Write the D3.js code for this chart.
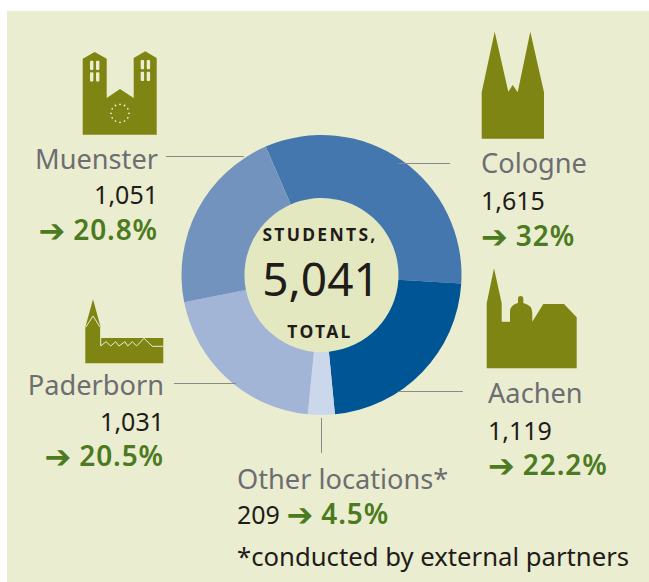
<!DOCTYPE html>
<html>
<head>
<meta charset="utf-8">
<script src="https://cdn.jsdelivr.net/npm/d3@7"></script>
<style>
  html, body { margin: 0; padding: 0; background: #fff; }
  svg { display: block; }
  text { font-family: "Noto Sans", "Open Sans", sans-serif; }
  .name { fill: #6d6e71; font-size: 27.2px; }
  .count { fill: #1f1c1a; font-size: 25px; }
  .share { fill: #4b7a20; font-size: 28px; font-weight: 600; letter-spacing: 0.9px; }
  .arrow { font-family: "DejaVu Sans", sans-serif; font-weight: 700; letter-spacing: 0; }
</style>
</head>
<body>
<div id="chart"></div>
<script>
const locations = ['Cologne', 'Aachen', 'Other locations*', 'Paderborn', 'Muenster'];
const students = ['1,615', '1,119', '209', '1,031', '1,051'];
const shareLabels = ['32%', '22.2%', '4.5%', '20.5%', '20.8%'];
// slice sizes as drawn in the picture (they do not quite follow the printed percentages)
const sliceShares = [32.5, 22.5, 3.1, 20.3, 21.6];
const sliceColors = ['#4377ae', '#005595', '#cbd7ea', '#a2b5d6', '#7393bf'];
const totalLabel = '5,041';
const footnote = '*conducted by external partners';

const width = 649,
  height = 582;

const cx = 321.5,
  cy = 275,
  outerR = 140,
  innerR = 77;

const colors = {
  panel: '#ebedd0',
  centre: '#e4e8c1',
  icon: '#7f8512',
  leader: '#8a8b85'
};

const svg = d3.select('#chart').append('svg')
  .attr('width', width)
  .attr('height', height);

svg.append('rect')
  .attr('x', 7)
  .attr('y', 11)
  .attr('width', width - 7)
  .attr('height', height - 11)
  .attr('fill', colors.panel);

function drawDonut() {
  const start = -23.5 * Math.PI / 180;
  const pie = d3.pie()
    .sort(null)
    .startAngle(start)
    .endAngle(start + 2 * Math.PI);

  const arc = d3.arc()
    .innerRadius(innerR)
    .outerRadius(outerR);

  const g = svg.append('g')
    .attr('transform', `translate(${cx},${cy})`);

  g.append('circle')
    .attr('r', innerR)
    .attr('fill', colors.centre);

  g.selectAll('path')
    .data(pie(sliceShares))
    .enter()
    .append('path')
    .attr('d', arc)
    .attr('fill', (d, i) => sliceColors[i]);
}

function drawCentre() {
  const g = svg.append('g').attr('text-anchor', 'middle');

  g.append('text')
    .attr('x', 320)
    .attr('y', 241)
    .attr('font-size', 17.5)
    .attr('font-weight', 700)
    .attr('letter-spacing', 2.3)
    .attr('fill', '#1f1c1a')
    .text('STUDENTS,');

  g.append('text')
    .attr('x', 321)
    .attr('y', 296)
    .attr('font-size', 46)
    .attr('fill', '#1f1c1a')
    .text(totalLabel);

  g.append('text')
    .attr('x', 320)
    .attr('y', 338)
    .attr('font-size', 17.5)
    .attr('font-weight', 700)
    .attr('letter-spacing', 2.3)
    .attr('fill', '#1f1c1a')
    .text('TOTAL');
}

function drawLeaders() {
  const leaders = [
    [398, 163.5, 450, 163.5],
    [398, 391.5, 463, 391.5],
    [321.5, 418, 321.5, 453],
    [174, 383.5, 236, 383.5],
    [166, 156.5, 244, 156.5]
  ];

  svg.selectAll('.leader')
    .data(leaders)
    .enter()
    .append('line')
    .classed('leader', true)
    .attr('x1', d => d[0])
    .attr('y1', d => d[1])
    .attr('x2', d => d[2])
    .attr('y2', d => d[3])
    .attr('stroke', colors.leader)
    .attr('stroke-width', 1);
}

function shareLine(sel, i) {
  sel.append('tspan')
    .classed('arrow', true)
    .attr('font-size', 32)
    .attr('dy', 2)
    .text('\u2794');
  sel.append('tspan')
    .attr('dx', 8)
    .attr('dy', -2)
    .text(shareLabels[i]);
}

function drawLabels() {
  // index, anchor, x, baseline of name / count / share
  const blocks = [
    [0, 'start', 481, 173, 210, 246],
    [1, 'start', 488, 403, 440, 475],
    [3, 'end', 164, 395, 431, 466],
    [4, 'end', 158, 169, 204, 240]
  ];

  blocks.forEach(([i, anchor, x, y1, y2, y3]) => {
    const g = svg.append('g').attr('text-anchor', anchor);
    g.append('text').classed('name', true).attr('x', x).attr('y', y1).text(locations[i]);
    g.append('text').classed('count', true).attr('x', x).attr('y', y2).text(students[i]);
    g.append('text').classed('share', true).attr('x', x).attr('y', y3).call(shareLine, i);
  });

  svg.append('text').classed('name', true)
    .attr('x', 237)
    .attr('y', 489)
    .text(locations[2]);

  const other = svg.append('text').classed('count', true)
    .attr('x', 237)
    .attr('y', 524);
  other.append('tspan').text(students[2] + ' ');
  other.append('tspan')
    .classed('share', true)
    .call(shareLine, 2);

  svg.append('text')
    .attr('x', 237)
    .attr('y', 566)
    .attr('font-size', 25.7)
    .attr('fill', '#1f1c1a')
    .text(footnote);
}

function drawIcons() {
  const shapes = [
    // Cologne
    'M481.7,138.7V92.3L494.7,31.7L508.3,91.7L512.7,85L517.7,92.3L530.3,31.7L544,92.3V138.7Z',
    // Aachen
    'M486.7,368.3V303.3L494,268.3L501.7,303.3V321.7H510V311.7Q510,305 518,303V298Q518,296 520.7,296Q523.3,296 523.3,298V303Q532.3,305 532.3,313V321.7L543.3,304H564L576.7,317.3V368.3Z',
    // Paderborn
    'M85.3,363.3V327.3L93,299.3L100.7,327.3V338H163.3V363.3Z',
    // Muenster
    'M82.7,134.7V58.7L94.7,52L106.7,58.7V98L120,89L133.7,98V58L145.3,51.3L156.7,58V134.7Z'
  ];

  svg.selectAll('.icon')
    .data(shapes)
    .enter()
    .append('path')
    .classed('icon', true)
    .attr('d', d => d)
    .attr('fill', colors.icon);

  // paderborn roof lines
  svg.append('path')
    .attr('d', 'M85.8,327.3L93,316L100.2,327.3M100.7,327.3V346L106,341.7L110.7,346L115.7,341.7L119,346L125,341.7L127.7,346L132.3,341.7L136.7,346L144,338.3L152.3,346.3H163.3')
    .attr('fill', 'none')
    .attr('stroke', colors.panel)
    .attr('stroke-width', 1);

  // muenster tower windows
  const windows = [
    [90, 60.7], [96, 60.7], [90, 72.3], [96, 72.3],
    [140.7, 60], [146.7, 60], [140.7, 71.7], [146.7, 71.7]
  ];
  svg.selectAll('.window')
    .data(windows)
    .enter()
    .append('rect')
    .classed('window', true)
    .attr('x', d => d[0])
    .attr('y', d => d[1])
    .attr('width', 3.4)
    .attr('height', 9.3)
    .attr('rx', 1)
    .attr('fill', colors.panel);

  // ring of stars
  svg.selectAll('.star')
    .data(d3.range(12))
    .enter()
    .append('circle')
    .classed('star', true)
    .attr('cx', i => 120 + 9 * Math.cos(i * Math.PI / 6))
    .attr('cy', i => 113.3 + 9 * Math.sin(i * Math.PI / 6))
    .attr('r', 0.9)
    .attr('fill', colors.panel);
}

drawDonut();
drawCentre();
drawLeaders();
drawIcons();
drawLabels();
</script>
</body>
</html>
